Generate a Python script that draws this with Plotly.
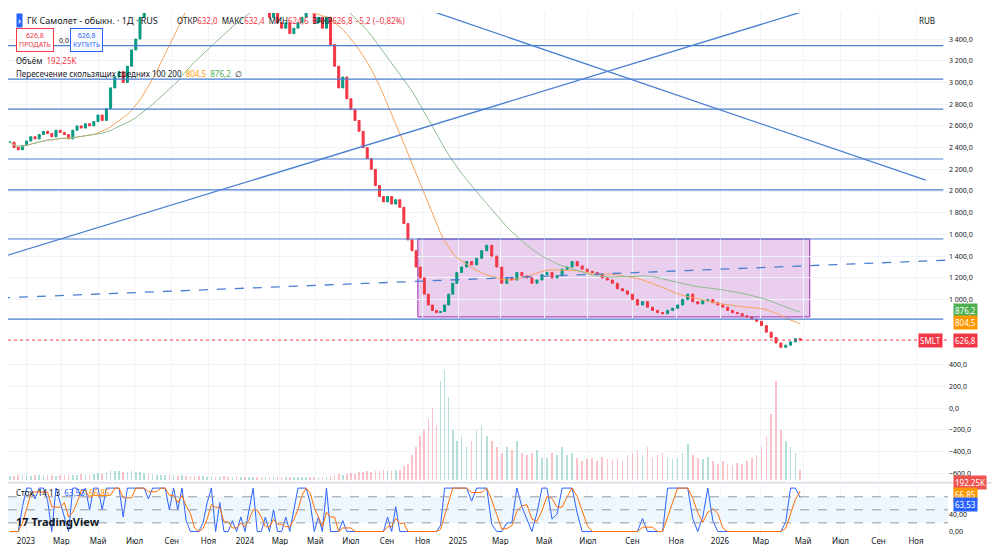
import numpy as np
import pandas as pd
import plotly.graph_objects as go

# weekly closes, grouped by month (Dec 2022 .. Apr 2026)
close = [
    2450, 2400, 2380, 2420,
    2460, 2500, 2480, 2520, 2550, 2530, 2500, 2560, 2540, 2520, 2480, 2560, 2600,
    2580, 2620, 2600, 2640, 2700, 2650, 2760, 2950, 3050, 3100, 3000, 3150, 3300,
    3400, 3600, 3800, 3700, 3900, 4000, 4150, 4200, 4100, 4300, 4200, 4400, 4250,
    4150, 4050, 3900, 3950, 4000, 4100, 3950, 4050, 3900, 3850, 3900, 3750, 3800,
    3700, 3750, 3800, 3700, 3650, 3700, 3600, 3650, 3550, 3500, 3550, 3450, 3500,
    3550, 3600, 3700, 3650, 3550, 3600, 3500, 3600, 3350, 3150, 2950, 3050, 2850,
    2750, 2650, 2550, 2400, 2300, 2200, 2050, 1950, 1900, 1950, 1880, 1920, 1850, 1700,
    1550, 1450, 1300, 1200, 1050, 950, 900, 880, 890, 950, 1050, 1150, 1250,
    1300, 1350, 1320, 1380, 1450, 1500, 1400, 1300, 1150, 1200, 1180, 1250, 1220,
    1200, 1150, 1180, 1230, 1250, 1200, 1220, 1280, 1300, 1350, 1310, 1280, 1260,
    1250, 1230, 1200, 1180, 1150, 1100, 1080, 1050, 1000, 950, 980, 930, 900,
    880, 870, 900, 920, 950, 1000, 1050, 980, 960, 990, 1000, 970, 950,
    930, 900, 880, 870, 850, 840, 820, 800, 760, 700, 650, 600, 560,
    580, 610, 640, 626.8,
]
volume = [
    80, 70, 90, 85,
    90, 80, 85, 95, 100, 90, 85, 80, 95, 90, 100, 85, 95,
    110, 100, 95, 120, 130, 110, 150, 180, 160, 170, 140, 150, 160,
    150, 140, 130, 120, 110, 100, 90, 95, 85, 90, 80, 85, 75,
    70, 80, 75, 70, 65, 70, 65, 60, 70, 60, 65, 70, 60,
    55, 60, 65, 60, 55, 60, 55, 50, 55, 60, 55, 50, 60,
    55, 60, 65, 60, 55, 60, 55, 65, 70, 90, 110, 100, 120,
    130, 120, 140, 150, 160, 150, 170, 160, 180, 170, 160, 180, 190, 250,
    300, 450, 600, 800, 900, 1100, 1300, 1000, 1800, 2000, 1500, 900, 700,
    800, 600, 700, 900, 1000, 800, 700, 600, 500, 600, 550, 700, 500,
    450, 500, 550, 400, 400, 500, 450, 600, 450, 500, 400, 350, 380,
    400, 350, 420, 380, 360, 400, 350, 450, 500, 550, 450, 600, 400,
    450, 500, 400, 380, 400, 500, 650, 450, 400, 380, 420, 350, 300,
    350, 300, 280, 320, 300, 350, 400, 450, 600, 800, 1200, 1800, 900,
    700, 600, 500, 192.25,
]
n = min(len(close), len(volume))
close, volume = close[:n], volume[:n]
dates = pd.date_range("2022-12-05", periods=n, freq="W-MON")

levels = [3340, 3030, 2755, 2295, 2010, 1558, 820]
trend_up = (["2022-11-20", "2026-05-22"], [1390, 3690])
trend_down = (["2024-11-10", "2026-11-17"], [3670, 2100])
trend_dash = (["2022-11-20", "2026-12-31"], [1015, 1365])
box = (["2024-10-24", "2026-05-12"], [840, 1558])
price_ticks = [3400, 3200, 3000, 2800, 2600, 2400, 2200, 2000, 1800, 1600, 1400, 1200,
               1000, 400, 200, 0, -200, -400, -600]
month_ticks = ["2023-01-01", "2023-03-01", "2023-05-01", "2023-07-01", "2023-09-01", "2023-11-01",
               "2024-01-01", "2024-03-01", "2024-05-01", "2024-07-01", "2024-09-01", "2024-11-01",
               "2025-01-01", "2025-03-01", "2025-05-01", "2025-07-01", "2025-09-01", "2025-11-01",
               "2026-01-01", "2026-03-01", "2026-05-01", "2026-07-01", "2026-09-01", "2026-11-01"]
month_names = ["2023", "Мар", "Май", "Июл", "Сен", "Ноя"] + ["2024", "Мар", "Май", "Июл", "Сен", "Ноя"] + \
              ["2025", "Мар", "Май", "Июл", "Сен", "Ноя"] + ["2026", "Мар", "Май", "Июл", "Сен", "Ноя"]

# time scale: bars are not evenly spread in calendar time (weekend sessions from 2025),
# so the axis runs on a bar-position scale pinned at the year marks
scale_dates = pd.to_datetime(["2022-11-20", "2023-01-01", "2024-01-01", "2025-01-01",
                              "2026-01-01", "2026-05-01", "2026-11-01", "2027-01-01"])
scale_pos = [-7, 18, 237, 450, 712, 795, 908, 945]


def to_x(d):
    d = pd.to_datetime(d)
    return np.interp(np.asarray(d, dtype="datetime64[ns]").astype("int64"),
                     scale_dates.values.astype("int64"), scale_pos)


df = pd.DataFrame({"date": dates, "close": close, "volume": volume})
df["x"] = to_x(df["date"])
df["open"] = df["close"].shift(1).fillna(df["close"])
df["high"] = df[["open", "close"]].max(axis=1)
df["low"] = df[["open", "close"]].min(axis=1)
df["ma100"] = df["close"].rolling(20, min_periods=1).mean()
df["ma200"] = df["close"].rolling(40, min_periods=1).mean()
hh = df["high"].rolling(3, min_periods=1).max()
ll = df["low"].rolling(3, min_periods=1).min()
df["k"] = ((df["close"] - ll) / (hh - ll).replace(0, 1) * 100).clip(0, 100)
df["d"] = df["k"].rolling(3, min_periods=1).mean()

UP, DOWN = "#089981", "#f23645"
BLUE = "#2962ff"
LINE = "#4a7fd0"
FONT = "Noto Sans"

fig = go.Figure()
fig.add_trace(go.Bar(
    x=df["x"], y=df["volume"], yaxis="y2",
    marker_color=["rgba(8,153,129,0.3)" if c >= o else "rgba(242,54,69,0.3)"
                  for c, o in zip(df["close"], df["open"])],
    marker_line_width=0, width=1.6))
fig.add_trace(go.Candlestick(
    x=df["x"], open=df["open"], high=df["high"], low=df["low"], close=df["close"],
    increasing=dict(line=dict(color=UP, width=1), fillcolor=UP),
    decreasing=dict(line=dict(color=DOWN, width=1), fillcolor=DOWN)))
fig.add_trace(go.Scatter(x=df["x"], y=df["ma100"], mode="lines", line=dict(color="#f7a35c", width=1)))
fig.add_trace(go.Scatter(x=df["x"], y=df["ma200"], mode="lines", line=dict(color="#8fbc8f", width=1)))
fig.add_trace(go.Scatter(x=df["x"], y=df["k"], yaxis="y3", mode="lines", line=dict(color=BLUE, width=1)))
fig.add_trace(go.Scatter(x=df["x"], y=df["d"], yaxis="y3", mode="lines", line=dict(color="#ff6d00", width=1)))

shapes = []
for lv in levels:
    shapes.append(dict(type="line", xref="paper", x0=0, x1=0.995, y0=lv, y1=lv, yref="y",
                       line=dict(color=LINE, width=1.2)))
for (xs, ys), dash in [(trend_up, "solid"), (trend_down, "solid"), (trend_dash, "dash")]:
    x0, x1 = to_x(xs)
    shapes.append(dict(type="line", xref="x", yref="y", x0=x0, x1=x1, y0=ys[0], y1=ys[1],
                       line=dict(color=LINE, width=1.3, dash=dash)))
bx0, bx1 = to_x(box[0])
shapes.append(dict(type="rect", xref="x", yref="y", x0=bx0, x1=bx1, y0=box[1][0], y1=box[1][1],
                   fillcolor="rgba(206,147,216,0.45)", line=dict(color="#9c27b0", width=1), layer="below"))
shapes.append(dict(type="line", xref="paper", x0=0, x1=1, y0=close[-1], y1=close[-1], yref="y",
                   line=dict(color=DOWN, width=1, dash="dot")))
shapes.append(dict(type="rect", xref="paper", x0=0, x1=1, yref="y3", y0=20, y1=80,
                   fillcolor="rgba(33,150,243,0.08)", line_width=0, layer="below"))
for v in [20, 50, 80]:
    shapes.append(dict(type="line", xref="paper", x0=0, x1=1, yref="y3", y0=v, y1=v,
                       line=dict(color="#9598a1", width=1, dash="dash")))
shapes.append(dict(type="line", xref="paper", x0=0, x1=1.06, yref="paper", y0=0.1, y1=0.1,
                   line=dict(color="#e0e3eb", width=2)))

ann = []


def label(text, x, y, color="#131722", size=8, xanchor="left", **kw):
    ann.append(dict(text=text, x=x, y=y, xref="paper", yref="paper", showarrow=False,
                    xanchor=xanchor, yanchor="middle", font=dict(family=FONT, size=size, color=color), **kw))


label("<b>›</b>", 0.008, 0.985, color="white", size=8, bgcolor=BLUE)
label("ГК Самолет - обыкн. · 1Д · RUS", 0.018, 0.985, size=9)
label("ОТКР<span style='color:#f23645'>632,0</span>  МАКС<span style='color:#f23645'>632,4</span>  "
      "МИН<span style='color:#f23645'>624,6</span>  ЗАКР<span style='color:#f23645'>626,8 −5,2 (−0,82%)</span>",
      0.178, 0.985, size=8)
label("626,8<br>ПРОДАТЬ", 0.009, 0.948, color=DOWN, size=7, bordercolor=DOWN, borderwidth=1, borderpad=2, bgcolor="white")
label("0,0", 0.052, 0.948, size=7)
label("626,8<br>КУПИТЬ", 0.066, 0.948, color=BLUE, size=7, bordercolor=BLUE, borderwidth=1, borderpad=2, bgcolor="white")
label("Объём  <span style='color:#f23645'>192,25K</span>", 0.006, 0.909, size=8)
label("Пересечение скользящих средних 100 200  <span style='color:#ff9800'>804,5</span>  "
      "<span style='color:#4caf50'>876,2</span>  ∅", 0.006, 0.885, size=8)
label("Стох. 14 1 3  <span style='color:#2962ff'>63,53</span>  <span style='color:#ff9800'>66,85</span>",
      0.006, 0.082, size=8)
label("<b>17 TradingView</b>", 0.006, 0.025, size=11)
label("RUB", 0.967, 0.985, size=8)


def tag(text, y, bg, yref="y"):
    ann.append(dict(text=text, x=1.005, y=y, xref="paper", yref=yref, showarrow=False, xanchor="left",
                    font=dict(family=FONT, size=8, color="white"), bgcolor=bg, borderpad=1))


tag("876,2", 900, "#4caf50")
tag("804,5", 790, "#ff9800")
tag("626,8", close[-1], DOWN)
ann.append(dict(text="SMLT", x=0.995, y=close[-1], xref="paper", yref="y", showarrow=False, xanchor="right",
                font=dict(family=FONT, size=8, color="white"), bgcolor=DOWN, borderpad=1))
tag("192,25K", 0.086, "#ef5350", "paper")
tag("66,85", 85, "#ff9800", "y3")
tag("63,53", 62, BLUE, "y3")

fig.update_layout(
    width=1000, height=545, margin=dict(l=0, r=60, t=5, b=18),
    plot_bgcolor="white", paper_bgcolor="white", showlegend=False,
    font=dict(family=FONT, size=8, color="#131722"),
    shapes=shapes, annotations=ann, bargap=0,
    xaxis=dict(range=[0, 940], rangeslider_visible=False, tickvals=to_x(month_ticks),
               ticktext=month_names, showgrid=True, gridcolor="#f0f3fa", tickfont=dict(size=8),
               anchor="y3", showline=False, zeroline=False),
    yaxis=dict(domain=[0.105, 1], range=[-664, 3640], side="right", tickvals=price_ticks,
               ticktext=[f"{v:,.1f}".replace(",", " ").replace(".", ",").replace("-", "−") for v in price_ticks],
               showgrid=True, gridcolor="#f0f3fa", zeroline=False, tickfont=dict(size=7)),
    yaxis2=dict(domain=[0.105, 1], range=[0, 8450], overlaying="y", visible=False),
    yaxis3=dict(domain=[0, 0.094], range=[-8, 105], side="right", tickvals=[0, 40],
                ticktext=["0,00", "40,00"], showgrid=False, zeroline=False, tickfont=dict(size=7)),
)
fig.write_html("out.html")
